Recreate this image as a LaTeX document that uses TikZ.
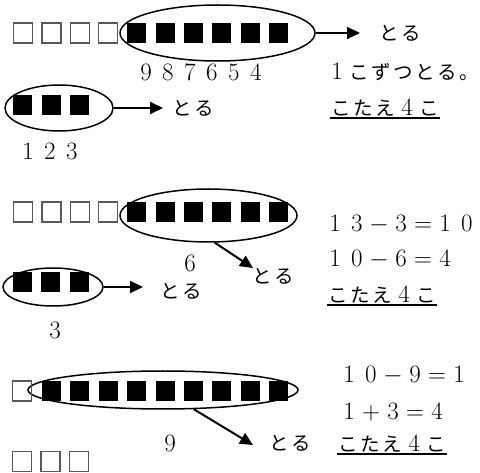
\documentclass[tikz,border=0pt]{standalone}
\usepackage{fontspec}
\newfontfamily\jp{Noto Sans CJK JP}
\usetikzlibrary{arrows.meta,shapes.geometric}
\newcommand\F[1]{\makebox[22pt]{\fontsize{25}{27}\selectfont #1}}
\newcommand\J[1]{\makebox[22pt]{\jp\fontsize{19.5}{22}\selectfont #1}}
\begin{document}
\begin{tikzpicture}[x=1pt,y=-1pt,
  sqE/.style={draw=black!65, line width=1.4pt, minimum width=19pt, minimum height=20pt, inner sep=0pt, outer sep=0pt},
  sqB/.style={fill=black, minimum width=19pt, minimum height=20pt, inner sep=0pt, outer sep=0pt},
  oval/.style={draw, ellipse, line width=1.5pt, inner sep=0pt},
  arr/.style={line width=2pt, -{Triangle[length=13pt,width=12pt]}},
  txt/.style={inner sep=0pt, outer sep=0pt},
  uline/.style={line width=1.1pt}]
\useasboundingbox (0,0) rectangle (480,473);
% ---------- section 1 ----------
\node[oval, minimum width=195pt, minimum height=56pt] (e1) at (217.5,33) {};
\foreach \i in {0,...,3} \node[sqE] (a\i) at (23+28.4*\i,33) {};
\foreach \i in {4,...,9} \node[sqB] (a\i) at (23+28.4*\i,33) {};
\node[txt] (t1) at (400,33) {\J{と}\J{る}};
\draw[arr, shorten >=18pt] (e1.east) -- (e1.east -| t1.west);
\node[txt] (n1) at (201,72) {\F{9}\F{8}\F{7}\F{6}\F{5}\F{4}};
\node[txt, anchor=west] (n2) at (326,72) {\F{1}\J{こ}\J{ず}\J{つ}\J{と}\J{る}\J{。}};
\node[oval, minimum width=108pt, minimum height=46pt] (e2) at (59,108) {};
\foreach \i in {0,...,2} \node[sqB] (b\i) at (22.5+28.5*\i,105) {};
\node[txt] (t2) at (193,108) {\J{と}\J{る}};
\draw[arr, shorten >=8pt] (e2.east) -- (e2.east -| t2.west);
\node[txt, anchor=west] (k1) at (330,108) {\J{こ}\J{た}\J{え}\F{4}\J{こ}};
\draw[uline] ([yshift=-10pt]k1.west) -- ([yshift=-10pt]k1.east);
\node[txt] (n3) at (50,151) {\F{1}\F{2}\F{3}};
% ---------- section 2 ----------
\node[oval, minimum width=177pt, minimum height=53pt] (e3) at (208.5,215.5) {};
\foreach \i in {0,...,3} \node[sqE] (c\i) at (23+28.4*\i,212) {};
\foreach \i in {4,...,9} \node[sqB] (c\i) at (23+28.4*\i,212) {};
\node[txt] (t3) at (273,276) {\J{と}\J{る}};
\coordinate (p3) at (253,268);
\draw[arr] (e3.-77) -- (p3);
\node[txt] (n4) at (190,263) {\F{6}};
\node[oval, minimum width=100pt, minimum height=38pt] (e4) at (53,287) {};
\foreach \i in {0,...,2} \node[sqB] (d\i) at (22+28.6*\i,282) {};
\node[txt] (t4) at (181,291) {\J{と}\J{る}};
\draw[arr, shorten >=16pt] (e4.east) -- (e4.east -| t4.west);
\node[txt] (n5) at (55,330) {\F{3}};
\node[txt, anchor=west] (q1) at (324,224) {\F{1}\F{3}\F{$-$}\F{3}\F{$=$}\F{1}\F{0}};
\node[txt, anchor=west] (q2) at (324,259) {\F{1}\F{0}\F{$-$}\F{6}\F{$=$}\F{4}};
\node[txt, anchor=west] (k2) at (327,295) {\J{こ}\J{た}\J{え}\F{4}\J{こ}};
\draw[uline] ([yshift=-10pt]k2.west) -- ([yshift=-10pt]k2.east);
% ---------- section 3 ----------
\node[oval, minimum width=270pt, minimum height=38pt] (e5) at (163,390) {};
\node[sqE] (f0) at (22,391) {};
\foreach \i in {1,...,9} \node[sqB] (f\i) at (23+28.4*\i,391) {};
\coordinate (p5) at (253,445);
\draw[arr] (e5.-32) -- (p5);
\node[txt] (t5) at (290,443) {\J{と}\J{る}};
\node[txt] (n6) at (170,443) {\F{9}};
\foreach \i in {0,...,2} \node[sqE] (g\i) at (22+28.5*\i,461.5) {};
\node[txt, anchor=west] (q3) at (338,375) {\F{1}\F{0}\F{$-$}\F{9}\F{$=$}\F{1}};
\node[txt, anchor=west] (q4) at (338,412) {\F{1}\F{$+$}\F{3}\F{$=$}\F{4}};
\node[txt, anchor=west] (k3) at (337,444) {\J{こ}\J{た}\J{え}\F{4}\J{こ}};
\draw[uline] ([yshift=-10pt]k3.west) -- ([yshift=-10pt]k3.east);
\end{tikzpicture}
\end{document}
